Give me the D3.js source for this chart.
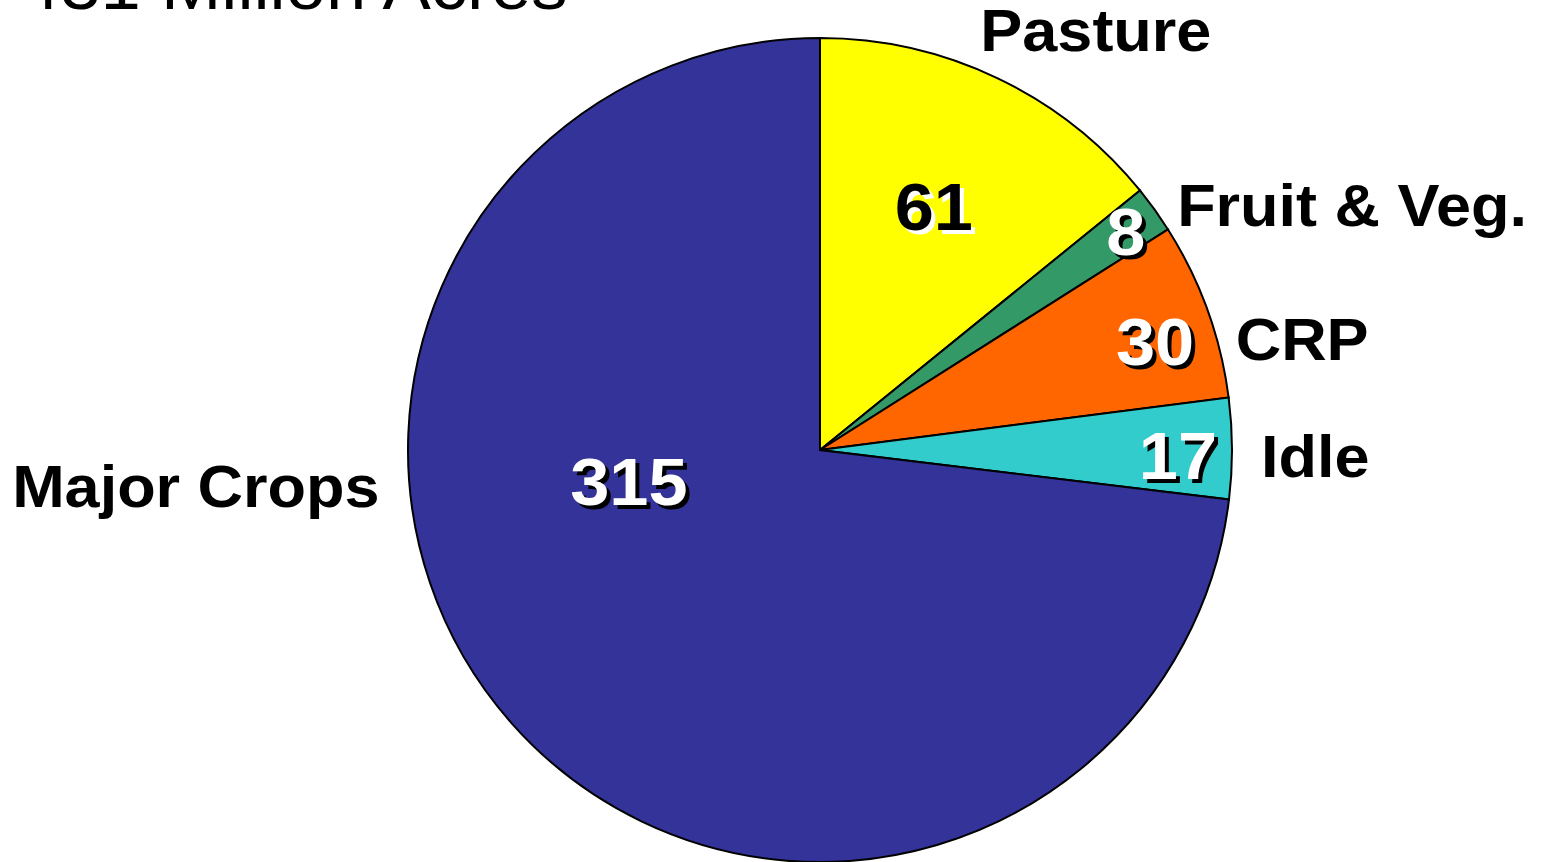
<!DOCTYPE html>
<html>
<head>
<meta charset="utf-8">
<script src="https://cdn.jsdelivr.net/npm/d3@7"></script>
<style>
  body { margin: 0; background: #fff; }
  text { font-family: "Liberation Sans", Arial, sans-serif; }
</style>
</head>
<body>
<div id="chart"></div>
<script>
// land use, million acres
const categories = ["Pasture", "Fruit & Veg.", "CRP", "Idle", "Major Crops"];
const acres = [61, 8, 30, 17, 315];
const sliceColors = ["#ffff00", "#339966", "#ff6600", "#33cccc", "#333399"];

// label placement: [angle deg clockwise from 12 o'clock, radius factor]
const valueLabelPolar = [[25.0, 0.654], [54.4, 0.913], [72.0, 0.855], [90.8, 0.869], [260.8, 0.47]];
const nameLabelPolar = [[33.1, 1.226], [65.0, 1.425], [76.6, 1.203], [90.3, 1.202], [267.0, 1.517]];

const width = 1543, height = 862;
const cx = 820, cy = 450, radius = 412;
const stretch = 1.05;

const svg = d3.select("#chart")
    .append("svg")
    .attr("width", width)
    .attr("height", height);

const total = d3.sum(acres);

// title (partly cut off at the top in the original)
svg.append("text")
    .attr("transform", `translate(20,9) scale(${stretch},1)`)
    .style("font-size", "69px")
    .style("fill", "#000")
    .text(total + " Million Acres");

const pie = d3.pie().sort(null).value(d => d);
const arc = d3.arc().innerRadius(0).outerRadius(radius);
const arcs = pie(acres);

const g = svg.append("g").attr("transform", `translate(${cx},${cy})`);

g.selectAll("path")
    .data(arcs)
    .enter().append("path")
    .attr("d", arc)
    .style("fill", (d, i) => sliceColors[i])
    .style("stroke", "#000")
    .style("stroke-width", 2);

function polar(p) {
    const a = p[0] * Math.PI / 180;
    return [radius * p[1] * Math.sin(a), -radius * p[1] * Math.cos(a)];
}

// values with drop shadow
arcs.forEach((d, i) => {
    const [x, y] = polar(valueLabelPolar[i]);
    const light = d3.lab(sliceColors[i]).l > 85;
    const fg = light ? "#000" : "#fff";
    const bg = light ? "#fff" : "#000";
    [[4, 4, bg], [0, 0, fg]].forEach(s => {
        g.append("text")
            .attr("transform", `translate(${x + s[0]},${y + s[1]}) scale(${stretch},1)`)
            .attr("text-anchor", "middle")
            .attr("dy", "0.36em")
            .style("font-size", "67px")
            .style("font-weight", "bold")
            .style("fill", s[2])
            .text(d.data);
    });
});

// category names
categories.forEach((c, i) => {
    const [x, y] = polar(nameLabelPolar[i]);
    g.append("text")
        .attr("transform", `translate(${x},${y + 3}) scale(${stretch},1)`)
        .attr("text-anchor", "middle")
        .attr("dy", "0.36em")
        .style("font-size", "60px")
        .style("font-weight", "bold")
        .style("fill", "#000")
        .text(c);
});
</script>
</body>
</html>
